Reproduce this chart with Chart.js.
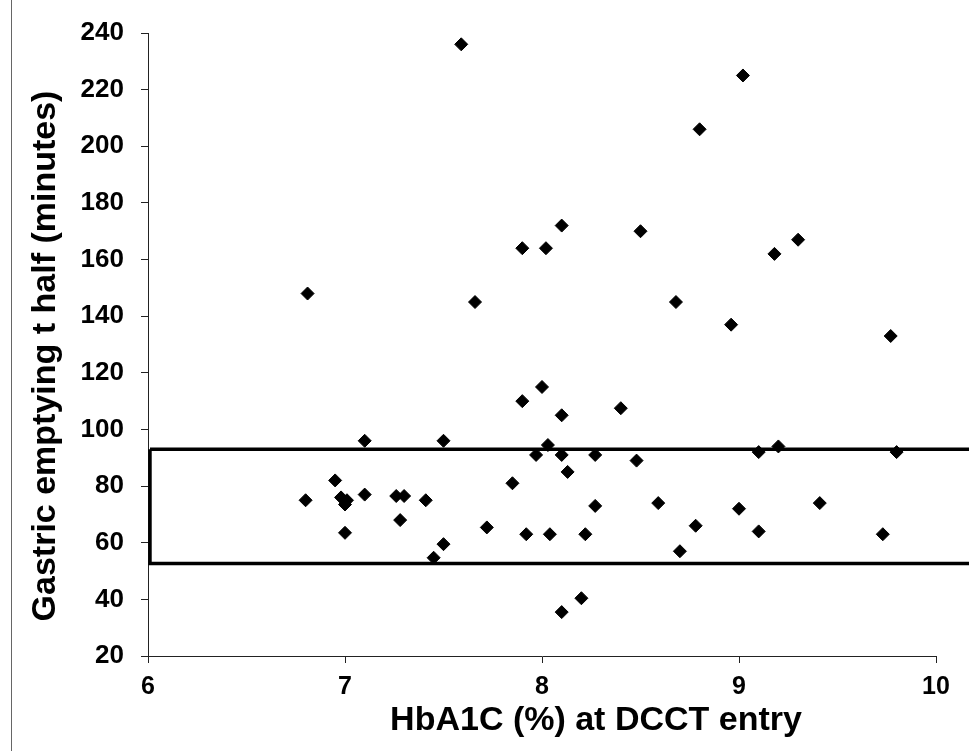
<!DOCTYPE html>
<html>
<head>
<meta charset="utf-8">
<title>Gastric emptying vs HbA1C</title>
<script src="https://cdn.jsdelivr.net/npm/chart.js@4.4.1/dist/chart.umd.min.js"></script>
<style>
    html, body { margin: 0; padding: 0; background: #fff; }
    #wrap { position: relative; width: 969px; height: 751px; }
    #frameLine { position: absolute; left: 11px; top: 0; height: 751px; border-left: 1.5px solid #666; }
</style>
</head>
<body>
<div id="wrap">
    <div id="frameLine"></div>
    <canvas id="scatter" width="969" height="751"></canvas>
</div>
<script>
// HbA1C (%) at DCCT entry
const hba1c = [
    7.59, 6.81, 7.66, 9.02, 8.80, 7.90, 8.02, 8.10, 8.50, 9.18,
    9.30, 8.68, 8.96, 9.77, 8.00, 7.90, 8.10, 8.40, 7.10, 7.50,
    8.03, 7.97, 8.10, 8.27, 8.48, 9.10, 9.20, 9.80, 8.13, 7.85,
    6.95, 6.80, 6.98, 7.01, 7.00, 7.10, 7.26, 7.30, 7.41, 7.28,
    7.00, 7.50, 7.45, 7.72, 7.92, 8.04, 8.22, 8.27, 8.59, 9.00,
    9.41, 8.78, 9.10, 9.73, 8.70, 8.20, 8.10
];
// gastric emptying t half (minutes), same order
const tHalf = [
    236, 148, 145, 225, 206, 164, 164, 172, 170, 162,
    167, 145, 137, 133, 115, 110, 105, 107.5, 96, 96,
    94.5, 91, 91, 91, 89, 92, 94, 92, 85, 81,
    82, 75, 76, 75, 73.5, 77, 76.5, 76.5, 75, 68,
    63.5, 59.5, 54.7, 65.4, 63, 63, 63, 73, 74, 72,
    74, 66, 64, 63, 57, 40.4, 35.5
];
// normal range box (runs off the right edge)
const boxX = [6.01, 10.3, 10.3, 6.01, 6.01];
const boxY = [93, 93, 52.7, 52.7, 93];

const xTicks = [6, 7, 8, 9, 10];
const yTicks = [20, 40, 60, 80, 100, 120, 140, 160, 180, 200, 220, 240];

const xTitle = 'HbA1C (%) at DCCT entry';
const yTitle = 'Gastric emptying t half (minutes)';

const FONT = '"Liberation Sans", Arial, sans-serif';

// axis titles sit off-centre in the original, so draw them by hand
const axisTitles = {
    id: 'axisTitles',
    afterDraw(chart) {
        const ctx = chart.ctx;
        ctx.save();
        ctx.fillStyle = '#000';
        ctx.font = 'bold 34px ' + FONT;
        ctx.textAlign = 'center';
        ctx.textBaseline = 'alphabetic';
        ctx.fillText(xTitle, 596, 730);
        ctx.translate(55, 356);
        ctx.rotate(-Math.PI / 2);
        ctx.fillText(yTitle, 0, 0);
        ctx.restore();
    }
};

const points = hba1c.map((x, i) => ({ x: x, y: tHalf[i] }));
const box = boxX.map((x, i) => ({ x: x, y: boxY[i] }));

new Chart(document.getElementById('scatter'), {
    type: 'scatter',
    data: {
        datasets: [
            {
                label: 'Subjects',
                data: points,
                pointStyle: 'rectRot',
                pointRadius: 6.5,
                pointBackgroundColor: '#000',
                pointBorderColor: '#000',
                pointBorderWidth: 1
            },
            {
                label: 'Normal range',
                data: box,
                showLine: true,
                borderColor: '#000',
                borderWidth: 3.5,
                pointRadius: 0,
                fill: false,
                clip: false
            }
        ]
    },
    options: {
        responsive: false,
        animation: false,
        events: [],
        layout: { padding: { left: 0, top: 33, right: 33, bottom: 0 } },
        plugins: {
            legend: { display: false },
            tooltip: { enabled: false }
        },
        scales: {
            x: {
                type: 'linear',
                min: 6,
                max: 10,
                afterBuildTicks: (scale) => { scale.ticks = xTicks.map(v => ({ value: v })); },
                afterFit: (scale) => { scale.height = 95; },
                border: { color: '#222', width: 1 },
                grid: { drawOnChartArea: false, drawTicks: true, tickLength: 7, color: '#222' },
                ticks: { color: '#000', padding: 9, font: { family: FONT, size: 25, weight: 'bold' } },
                title: { display: false }
            },
            y: {
                type: 'linear',
                min: 20,
                max: 240,
                afterBuildTicks: (scale) => { scale.ticks = yTicks.map(v => ({ value: v })); },
                afterFit: (scale) => { scale.width = 148; },
                border: { color: '#222', width: 1 },
                grid: { drawOnChartArea: false, drawTicks: true, tickLength: 7, color: '#222' },
                ticks: { color: '#000', padding: 17, font: { family: FONT, size: 26, weight: 'bold' } },
                title: { display: false }
            }
        }
    },
    plugins: [axisTitles]
});
</script>
</body>
</html>
